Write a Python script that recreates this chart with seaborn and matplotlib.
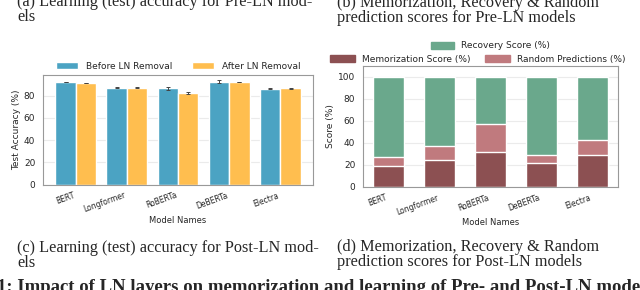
import pandas as pd
import matplotlib.pyplot as plt
import seaborn as sns
from matplotlib.patches import Patch

models = ['BERT', 'Longformer', 'RoBERTa', 'DeBERTa', 'Electra']
acc_before = [92.1, 87.2, 86.5, 92.6, 86.2]
acc_after = [91.2, 87.0, 82.6, 92.1, 86.5]
err_before = [0.3, 0.2, 1.3, 1.5, 0.3]
err_after = [0.3, 0.6, 1.0, 0.3, 0.2]
memorization = [19.5, 24.2, 32.0, 22.0, 29.3]
random_pred = [8.0, 13.3, 25.0, 7.4, 13.7]
recovery = [100 - m - r for m, r in zip(memorization, random_pred)]

blue, orange = '#4BA3C3', '#FFBE4F'
green, dark_red, pink = '#6AA88C', '#8C5052', '#C07A7E'

sns.set_style('whitegrid', {'axes.edgecolor': '0.6', 'grid.color': '0.92'})
plt.rcParams['font.family'] = ['DejaVu Sans']

fig = plt.figure(figsize=(6.4, 2.9), dpi=100)
W, H = 640, 290
ax1 = fig.add_axes([43 / W, 1 - 184.5 / H, 270 / W, 109.5 / H])
ax2 = fig.add_axes([363 / W, 1 - 187 / H, 255 / W, 121 / H])

# left: accuracy before/after LN removal
acc = pd.DataFrame({
    'Model': models * 2,
    'Accuracy': acc_before + acc_after,
    'Stage': ['Before LN Removal'] * 5 + ['After LN Removal'] * 5,
})
sns.barplot(data=acc, x='Model', y='Accuracy', hue='Stage', palette=[blue, orange],
            errorbar=None, width=0.8, saturation=1, ax=ax1)
for cont, errs in zip(ax1.containers, [err_before, err_after]):
    xs = [b.get_x() + b.get_width() / 2 for b in cont]
    ys = [b.get_height() for b in cont]
    ax1.errorbar(xs, ys, yerr=errs, fmt='none', ecolor='#444444', capsize=1.5, elinewidth=0.7, capthick=0.7)
ax1.set_ylim(0, 98.5)
ax1.set_yticks([0, 20, 40, 60, 80])
ax1.set_ylabel('Test Accuracy (%)', fontsize=6.5, labelpad=2)
ax1.set_xlabel('Model Names', fontsize=6, labelpad=1)
ax1.legend(loc='lower center', bbox_to_anchor=(0.5, 0.99), ncol=2, frameon=False, fontsize=6.5,
           handlelength=2.5, handleheight=0.8, columnspacing=2.2, borderaxespad=0.2)

# right: stacked memorization / random / recovery
total = [m + r + c for m, r, c in zip(memorization, random_pred, recovery)]
mem_rand = [m + r for m, r in zip(memorization, random_pred)]
sns.barplot(x=models, y=total, color=green, width=0.6, saturation=1, ax=ax2)
sns.barplot(x=models, y=mem_rand, color=pink, width=0.6, saturation=1, ax=ax2)
sns.barplot(x=models, y=memorization, color=dark_red, width=0.6, saturation=1, ax=ax2)
ax2.set_ylim(0, 110)
ax2.set_yticks([0, 20, 40, 60, 80, 100])
ax2.set_ylabel('Score (%)', fontsize=6.5, labelpad=2)
ax2.set_xlabel('Model Names', fontsize=6, labelpad=1)
leg1 = ax2.legend(handles=[Patch(color=green, label='Recovery Score (%)')], loc='lower center',
                  bbox_to_anchor=(0.5, 1.1), frameon=False, fontsize=6.5,
                  handlelength=2.5, handleheight=0.8, borderaxespad=0)
ax2.add_artist(leg1)
ax2.legend(handles=[Patch(color=dark_red, label='Memorization Score (%)'),
                    Patch(color=pink, label='Random Predictions (%)')],
           loc='lower center', bbox_to_anchor=(0.45, 0.99), ncol=2, frameon=False, fontsize=6.5,
           handlelength=2.8, handleheight=0.8, columnspacing=1.5, borderaxespad=0)

for ax in (ax1, ax2):
    ax.tick_params(axis='y', labelsize=6.5, pad=2)
    ax.tick_params(axis='x', labelsize=5.5, pad=1)
    for lab in ax.get_xticklabels():
        lab.set_rotation(20)
        lab.set_ha('right')
    ax.grid(axis='x', visible=False)

# captions
serif = ['Liberation Serif', 'DejaVu Serif']
cap = dict(fontsize=11.7, family=serif, va='baseline', ha='left')
fig.text(17 / W, 1 - 6 / H, '(a) Learning (test) accuracy for Pre-LN mod-', **cap)
fig.text(17 / W, 1 - 21 / H, 'els', **cap)
fig.text(337 / W, 1 - 7 / H, '(b) Memorization, Recovery & Random', **cap)
fig.text(337 / W, 1 - 22 / H, 'prediction scores for Pre-LN models', **cap)
fig.text(17 / W, 1 - 252 / H, '(c) Learning (test) accuracy for Post-LN mod-', **cap)
fig.text(17 / W, 1 - 267 / H, 'els', **cap)
fig.text(337 / W, 1 - 251 / H, '(d) Memorization, Recovery & Random', **cap)
fig.text(337 / W, 1 - 266 / H, 'prediction scores for Post-LN models', **cap)
fig.text(-3 / W, 1 - 292 / H, '1: Impact of LN layers on memorization and learning of Pre- and Post-LN models',
         fontsize=13.5, family=serif, weight='bold', va='baseline', ha='left')

fig.savefig('out.png', dpi=100)
